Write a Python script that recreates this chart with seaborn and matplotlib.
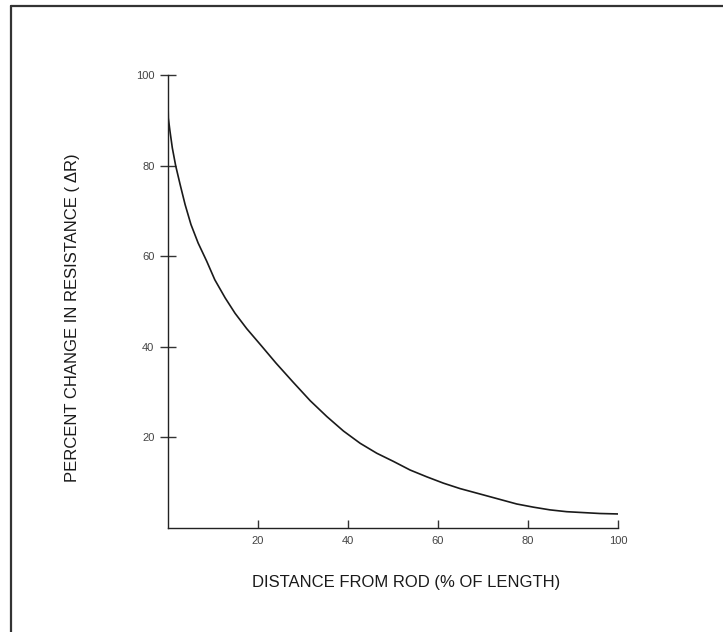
import matplotlib
matplotlib.use("Agg")
import matplotlib.pyplot as plt
import seaborn as sns
import pandas as pd
from matplotlib.lines import Line2D

# Data
distance = [0.0, 0.07, 0.44, 0.96, 1.7, 2.7, 3.8, 5.1, 6.7, 8.6, 10.4, 12.7, 14.9, 17.5,
            20.6, 24.0, 27.8, 31.6, 35.3, 39.0, 42.7, 46.4, 50.1, 53.8, 57.5, 61.2,
            64.9, 70.1, 73.8, 77.5, 81.2, 84.9, 88.6, 92.3, 96.0, 100.0]
resistance = [94.2, 90.5, 87.6, 83.9, 80.0, 75.8, 71.4, 67.0, 62.9, 58.9, 54.8, 50.8, 47.4, 44.0,
              40.4, 36.4, 32.2, 28.1, 24.6, 21.4, 18.7, 16.5, 14.7, 12.8, 11.3, 9.9,
              8.7, 7.3, 6.3, 5.3, 4.6, 4.0, 3.6, 3.4, 3.2, 3.1]
x_ticks = [20, 40, 60, 80, 100]
y_ticks = [20, 40, 60, 80, 100]
x_label = "DISTANCE FROM ROD (% OF LENGTH)"
y_label = "PERCENT CHANGE IN RESISTANCE ( \u0394R)"

df = pd.DataFrame({"distance": distance, "resistance": resistance})

sns.set_theme(style="white")
plt.rcParams["font.family"] = ["Liberation Sans", "DejaVu Sans"]

fig = plt.figure(figsize=(7.23, 6.32), dpi=100)
fig.patch.set_facecolor("white")
ax = fig.add_axes([168/723, 1 - 528/632, 450/723, 453/632])

sns.lineplot(data=df, x="distance", y="resistance", ax=ax, color="#1a1a1a",
             linewidth=1.2, estimator=None, sort=False)

ax.set_xlim(0, 100)
ax.set_ylim(0, 100)
ax.set_xticks(x_ticks)
ax.set_yticks(y_ticks)
ax.set_xlabel("")
ax.set_ylabel("")
for s in ["top", "right"]:
    ax.spines[s].set_visible(False)
for s in ["left", "bottom"]:
    ax.spines[s].set_color("#222222")
    ax.spines[s].set_linewidth(1.0)

ax.tick_params(axis="y", direction="inout", length=11.5, width=1.0, color="#333333",
               labelsize=8, labelcolor="#444444", pad=4, left=True)
ax.tick_params(axis="x", direction="in", length=5.5, width=1.0, color="#333333",
               labelsize=8, labelcolor="#444444", pad=6, bottom=True)

fig.text(406/723, 1 - 583/632, x_label, ha="center", va="center",
         fontsize=12, color="#1a1a1a")
fig.text(73/723, 1 - 318/632, y_label, ha="center", va="center", rotation=90,
         fontsize=12, color="#1a1a1a")

# Frame (top and left edges visible)
fig.add_artist(Line2D([11/723, 1.0], [1 - 6/632, 1 - 6/632], transform=fig.transFigure,
                      color="#333333", linewidth=1.6))
fig.add_artist(Line2D([11/723, 11/723], [0.0, 1 - 6/632], transform=fig.transFigure,
                      color="#333333", linewidth=1.6))

fig.savefig("out.png", dpi=100, facecolor="white")
